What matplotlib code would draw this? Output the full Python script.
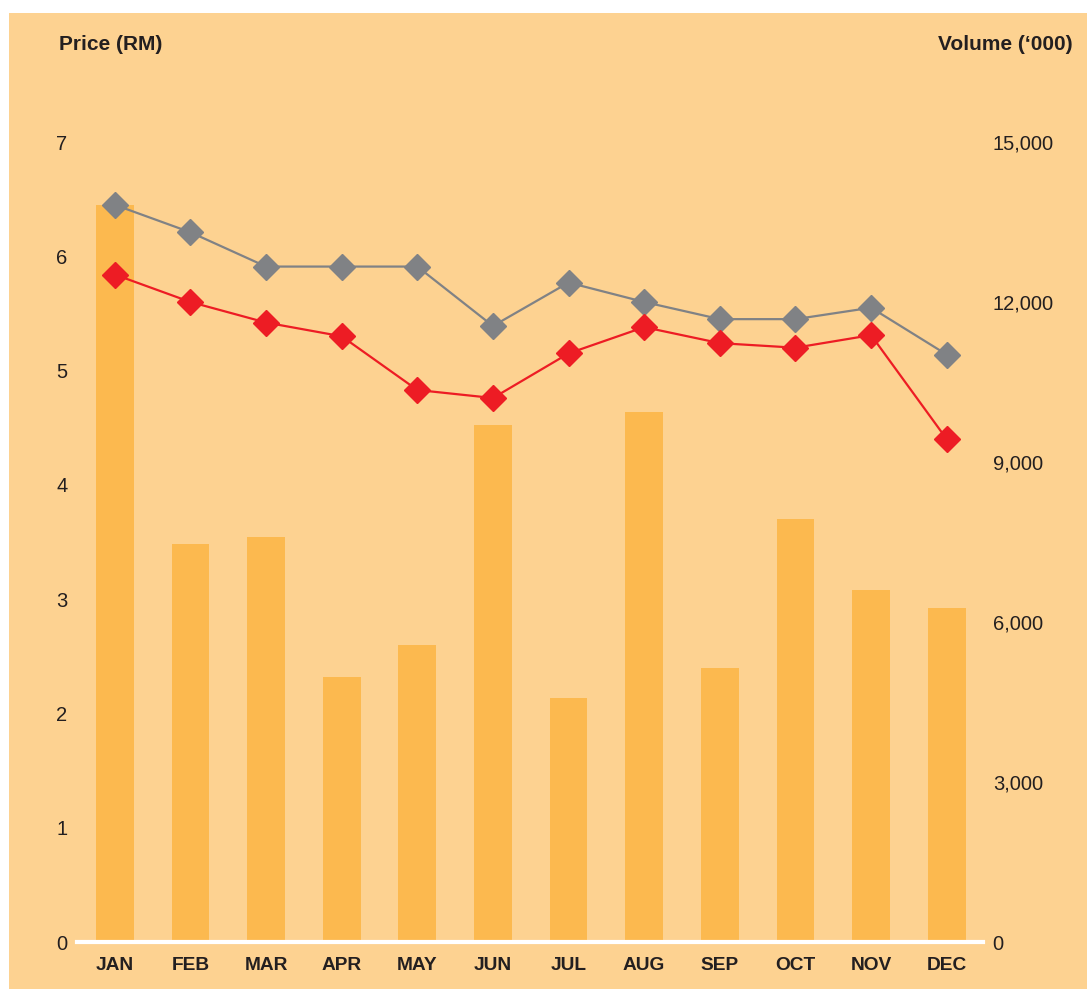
import numpy as np
import matplotlib.pyplot as plt
from matplotlib.patches import Rectangle

plt.rcParams['font.family'] = ['Liberation Sans', 'DejaVu Sans']

# данные
months = ['JAN', 'FEB', 'MAR', 'APR', 'MAY', 'JUN', 'JUL', 'AUG', 'SEP', 'OCT', 'NOV', 'DEC']
volume = [13820, 7460, 7590, 4970, 5570, 9690, 4580, 9940, 5140, 7930, 6600, 6260]
price_high = [6.45, 6.21, 5.91, 5.91, 5.91, 5.39, 5.77, 5.60, 5.45, 5.45, 5.55, 5.14]
price_low = [5.84, 5.60, 5.42, 5.30, 4.83, 4.76, 5.15, 5.38, 5.24, 5.20, 5.31, 4.40]
price_ticks = [0, 1, 2, 3, 4, 5, 6, 7]
vol_ticks = [0, 3000, 6000, 9000, 12000, 15000]
vol_labels = ['0', '3,000', '6,000', '9,000', '12,000', '15,000']

bg = '#FDD291'
bar_c = '#FCB94F'
grey = '#808285'
red = '#ED1C24'
txt = '#231F20'

fig = plt.figure(figsize=(10.87, 9.89), dpi=100, facecolor='white')
fig.patches.append(Rectangle((9/1087, 0), 1, 1 - 13/989, transform=fig.transFigure,
                             facecolor=bg, edgecolor='none', zorder=-10))

ax = fig.add_axes([77/1087, 1 - 942/989, (983 - 77)/1087, 800/989])
ax2 = ax.twinx()
ax.set_zorder(ax2.get_zorder() + 1)
ax.patch.set_visible(False)
ax2.patch.set_visible(False)

x = np.arange(len(months))
ax2.bar(x, volume, width=0.5, color=bar_c, linewidth=0)

ax.plot(x, price_high, color=grey, lw=1.6, marker='D', ms=12.8, clip_on=False)
ax.plot(x, price_low, color=red, lw=1.6, marker='D', ms=12.8, clip_on=False)

ax.set_xlim(-0.5, 11.48)
ax.set_ylim(0, 7)
ax2.set_ylim(0, 15000)

ax.set_xticks(x)
ax.set_xticklabels(months, fontsize=13.8, fontweight='bold', color=txt)
ax.set_yticks(price_ticks)
ax.set_yticklabels([str(t) for t in price_ticks], fontsize=14.5, color=txt)
ax2.set_yticks(vol_ticks)
ax2.set_yticklabels(vol_labels, fontsize=14.5, color=txt)

ax.tick_params(axis='x', length=0, pad=10.5)
ax.tick_params(axis='y', length=0, pad=7)
ax2.tick_params(axis='y', length=0, pad=7)

for a in (ax, ax2):
    for s in ['top', 'left', 'right']:
        a.spines[s].set_visible(False)
ax2.spines['bottom'].set_visible(False)
ax.spines['bottom'].set_color('white')
ax.spines['bottom'].set_linewidth(3)

fig.text(59/1087, 1 - 44/989, 'Price (RM)', fontsize=15, fontweight='bold', color=txt,
         ha='left', va='center')
fig.text(1073/1087, 1 - 44/989, 'Volume (\u2018000)', fontsize=15, fontweight='bold', color=txt,
         ha='right', va='center')

plt.savefig('out.png', dpi=100, facecolor=fig.get_facecolor())
